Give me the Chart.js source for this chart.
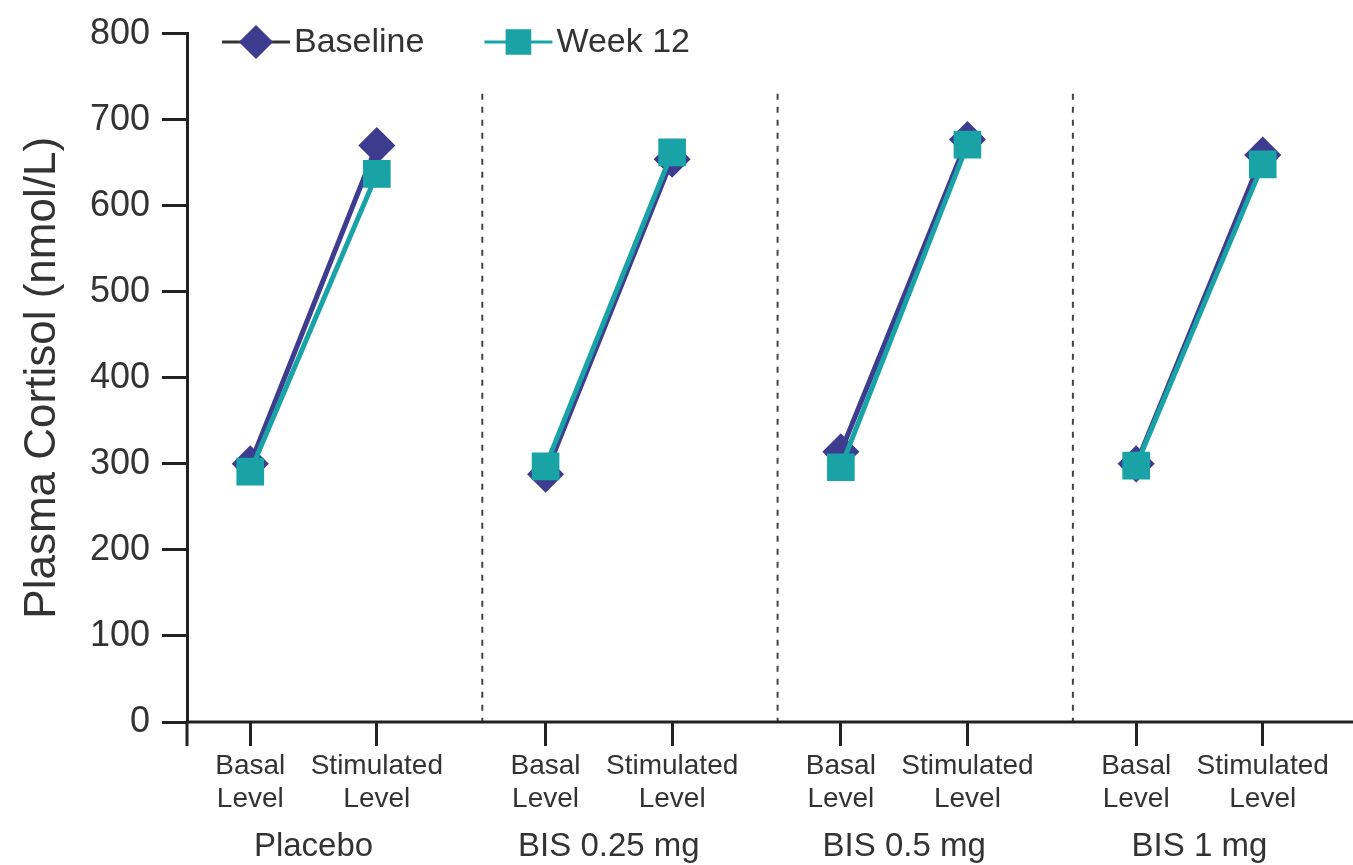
<!DOCTYPE html>
<html>
<head>
<meta charset="utf-8">
<script src="https://cdn.jsdelivr.net/npm/chart.js@4.4.1/dist/chart.umd.min.js"></script>
<style>
    html, body { margin: 0; padding: 0; background: #fff; }
    #wrap { width: 1353px; height: 865px; }
</style>
</head>
<body>
<div id="wrap"><canvas id="cortisolChart"></canvas></div>
<script>
// values
const groups = ['Placebo', 'BIS 0.25 mg', 'BIS 0.5 mg', 'BIS 1 mg'];
const levels = [['Basal', 'Level'], ['Stimulated', 'Level']];
const baselineValues = [300, 670, 288, 654, 314, 677, 300, 659];
const week12Values = [291, 637, 297, 662, 296, 671, 298, 648];
const yTicks = [0, 100, 200, 300, 400, 500, 600, 700, 800];

const FONT = "'Liberation Sans', Arial, sans-serif";
const TEXT = '#333';
const AXIS = '#222';
const NAVY = '#3d3c8e';
const TEAL = '#19a3a6';

// each group takes 7 category slots: basal at +1, stimulated at +4
const SLOTS = 7;
const levelSlot = [1, 4];
const slotLabels = [];
for (let i = 0; i < groups.length * SLOTS - 1; i++) {
    const k = levelSlot.indexOf(i % SLOTS);
    slotLabels.push(k >= 0 ? levels[k] : '');
}

// spread the values over the slots, empty slots stay null
function toSlots(values) {
    const out = slotLabels.map(() => null);
    values.forEach((v, i) => {
        out[Math.floor(i / 2) * SLOTS + levelSlot[i % 2]] = v;
    });
    return out;
}

// line only inside a group: hide the segment that ends on a basal point
function groupSegment(color) {
    return { borderColor: ctx => (ctx.p1DataIndex % SLOTS === levelSlot[0] ? 'transparent' : color) };
}

const extras = {
    id: 'extras',
    beforeDatasetsDraw(chart) {
        const { ctx, chartArea, scales } = chart;
        const x = scales.x, y = scales.y;
        ctx.save();
        ctx.strokeStyle = '#444';
        ctx.lineWidth = 2;
        ctx.setLineDash([6, 7]);
        for (let g = 0; g < groups.length - 1; g++) {
            const px = (x.getPixelForValue(g * SLOTS + 6) + x.getPixelForValue(g * SLOTS + 7)) / 2;
            ctx.beginPath();
            ctx.moveTo(px, y.getPixelForValue(730));
            ctx.lineTo(px, chartArea.bottom);
            ctx.stroke();
        }
        ctx.restore();
    },
    afterDraw(chart) {
        const { ctx, chartArea, scales } = chart;
        const x = scales.x;
        ctx.save();
        // x axis line runs to the canvas edge, y axis runs on below it
        ctx.strokeStyle = AXIS;
        ctx.lineWidth = 3;
        ctx.beginPath();
        ctx.moveTo(chartArea.left, chartArea.bottom);
        ctx.lineTo(chart.width, chartArea.bottom);
        ctx.moveTo(chartArea.left, chartArea.bottom);
        ctx.lineTo(chartArea.left, chartArea.bottom + 24);
        ctx.stroke();

        // group names under the tick labels
        ctx.fillStyle = TEXT;
        ctx.font = '33px ' + FONT;
        ctx.textAlign = 'center';
        ctx.textBaseline = 'middle';
        groups.forEach((name, g) => {
            const cx = (x.getPixelForValue(g * SLOTS + levelSlot[0]) + x.getPixelForValue(g * SLOTS + levelSlot[1])) / 2;
            ctx.fillText(name, cx, 847);
        });

        // legend: line through the marker, then the label
        let lx = chartArea.left + 35;
        const ly = 42;
        ctx.font = '34px ' + FONT;
        ctx.textAlign = 'left';
        chart.data.datasets.forEach(ds => {
            ctx.strokeStyle = ds.legendLine;
            ctx.lineWidth = 3;
            ctx.beginPath();
            ctx.moveTo(lx, ly);
            ctx.lineTo(lx + 68, ly);
            ctx.stroke();
            ctx.fillStyle = ds.pointBackgroundColor;
            ctx.strokeStyle = ds.pointBorderColor;
            Chart.helpers.drawPoint(ctx, {
                pointStyle: ds.pointStyle,
                radius: ds.pointRadius,
                rotation: 0,
                borderWidth: 1
            }, lx + 34, ly);
            ctx.fillStyle = TEXT;
            ctx.fillText(ds.label, lx + 72, ly + 1);
            lx += 72 + ctx.measureText(ds.label).width + 60;
        });
        ctx.restore();
    }
};

const ctx = document.getElementById('cortisolChart').getContext('2d');
new Chart(ctx, {
    type: 'line',
    data: {
        labels: slotLabels,
        datasets: [
            {
                label: 'Baseline',
                data: toSlots(baselineValues),
                spanGaps: true,
                borderColor: NAVY,
                borderWidth: 5,
                segment: groupSegment(NAVY),
                pointStyle: 'rectRot',
                pointRadius: 15,
                pointHoverRadius: 15,
                pointBackgroundColor: NAVY,
                pointBorderColor: NAVY,
                legendLine: '#333',
                order: 2
            },
            {
                label: 'Week 12',
                data: toSlots(week12Values),
                spanGaps: true,
                borderColor: TEAL,
                borderWidth: 5,
                segment: groupSegment(TEAL),
                pointStyle: 'rect',
                pointRadius: 16,
                pointHoverRadius: 16,
                pointBackgroundColor: TEAL,
                pointBorderColor: TEAL,
                legendLine: TEAL,
                order: 1
            }
        ]
    },
    options: {
        responsive: true,
        maintainAspectRatio: false,
        animation: false,
        layout: { padding: { top: 22, right: 27, bottom: 0, left: 0 } },
        plugins: {
            legend: { display: false },
            tooltip: { enabled: false }
        },
        scales: {
            x: {
                type: 'category',
                offset: true,
                afterFit: scale => { scale.height = 143; },
                border: { display: false },
                grid: {
                    drawOnChartArea: false,
                    drawTicks: true,
                    tickLength: 24,
                    tickWidth: 3,
                    tickColor: c => (c.tick && c.tick.label && c.tick.label !== '' ? AXIS : 'transparent')
                },
                ticks: {
                    autoSkip: false,
                    maxRotation: 0,
                    padding: 4,
                    color: TEXT,
                    font: { family: FONT, size: 28, lineHeight: 1.18 }
                }
            },
            y: {
                min: 0,
                max: 800,
                afterFit: scale => { scale.width = 187; },
                afterBuildTicks: scale => { scale.ticks = yTicks.map(v => ({ value: v })); },
                border: { color: AXIS, width: 3 },
                grid: {
                    drawOnChartArea: false,
                    drawTicks: true,
                    tickLength: 25,
                    tickWidth: 3,
                    tickColor: AXIS
                },
                ticks: {
                    padding: 12,
                    color: TEXT,
                    font: { family: FONT, size: 36 }
                },
                title: {
                    display: true,
                    text: 'Plasma Cortisol (nmol/L)',
                    color: TEXT,
                    padding: { top: 16, bottom: 0 },
                    font: { family: FONT, size: 44 }
                }
            }
        }
    },
    plugins: [extras]
});
</script>
</body>
</html>
